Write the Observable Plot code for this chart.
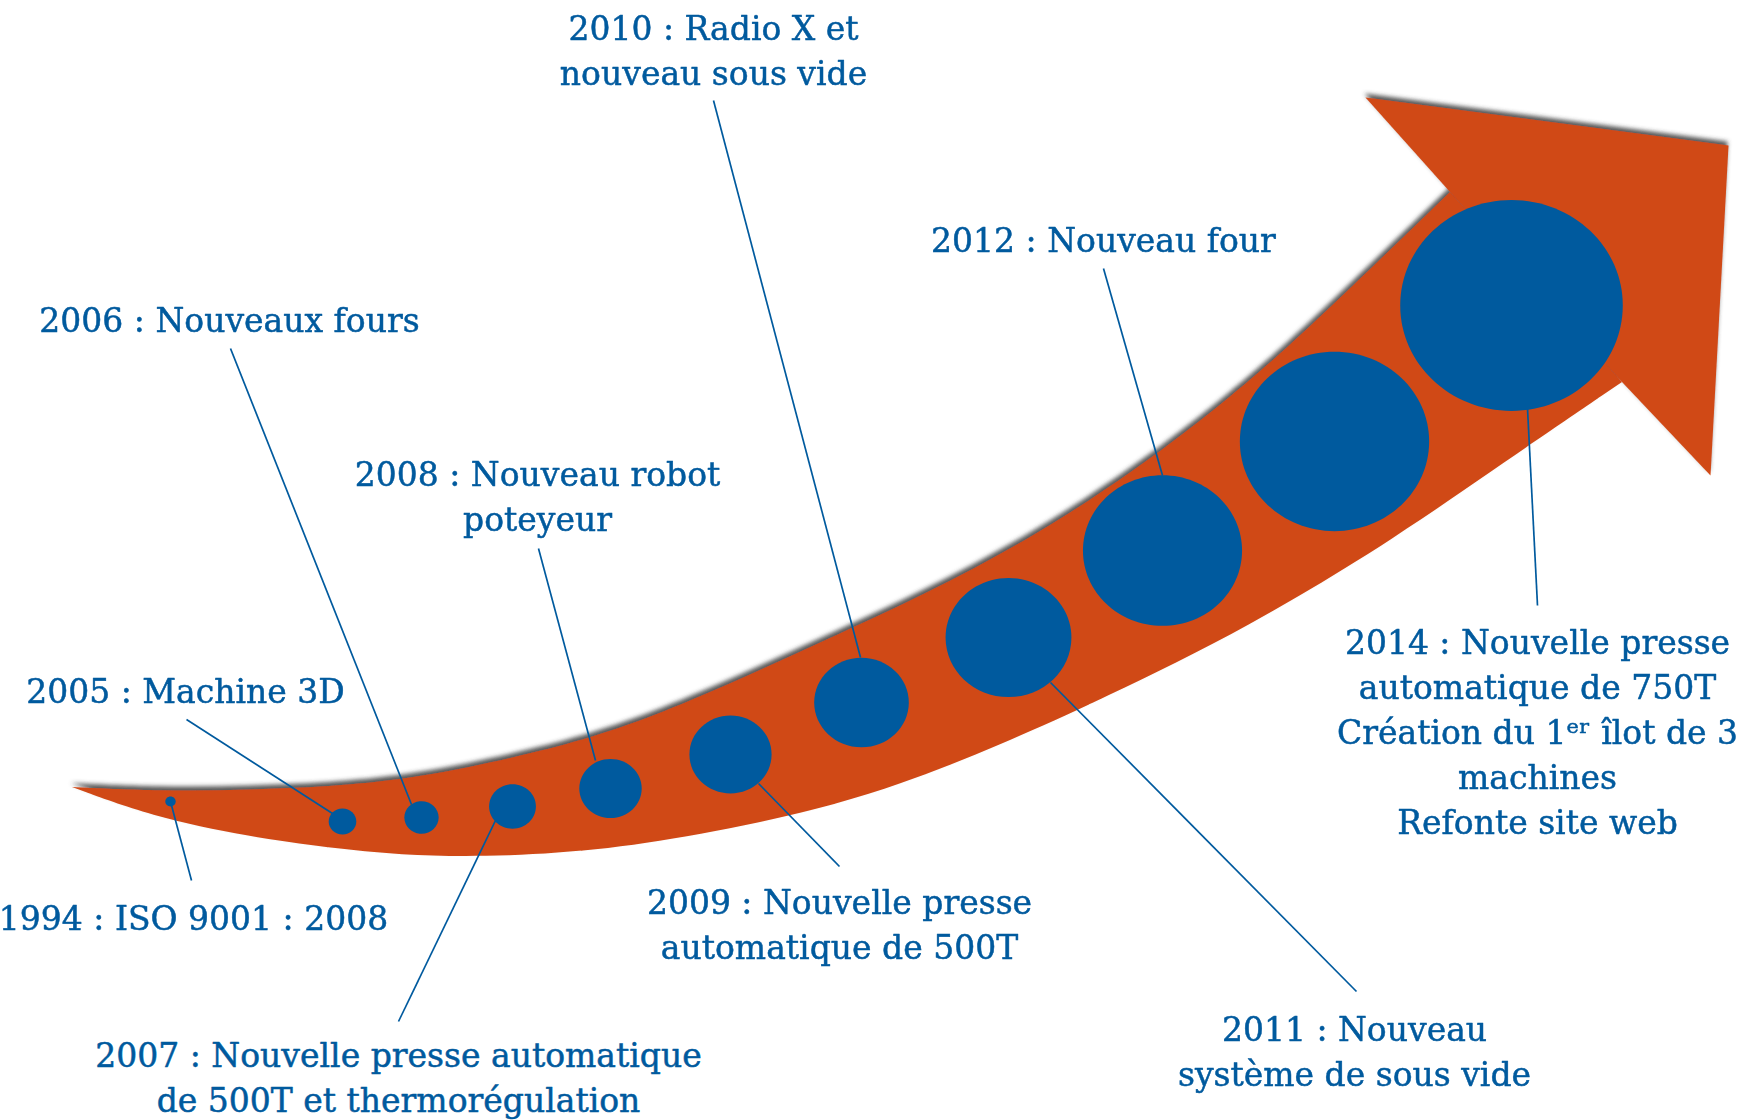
<!DOCTYPE html>
<html>
<head>
<meta charset="utf-8">
<script src="https://cdn.jsdelivr.net/npm/d3@7"></script>
<script src="https://cdn.jsdelivr.net/npm/@observablehq/plot@0.6"></script>
<style>
  html, body { margin: 0; padding: 0; background: #ffffff; }
  #chart { width: 1758px; height: 1120px; }
</style>
</head>
<body>
<div id="chart"></div>
<script>
// ---- Arrow outline (body edges + head) ----
const upperX = [72, 160, 250, 340, 417, 517, 583, 650, 750, 850, 950, 1050, 1150, 1233, 1300, 1450];
const upperY = [787, 791, 790, 786, 778, 757, 740, 718, 675, 629, 582, 527, 460, 395, 337, 192];
const lowerX = [72, 150, 250, 330, 400, 483, 583, 683, 806, 900, 1000, 1100, 1250, 1400, 1500, 1622];
const lowerY = [787, 816, 837, 848, 855, 857, 852, 838, 813, 785, 745, 700, 627, 535, 465, 382];
const headX = [1450, 1365, 1728, 1710, 1622];
const headY = [192, 97, 145, 475, 382];

// ---- Milestones (circles on the arrow) ----
const milestoneYears = ["1994", "2005", "2006", "2007", "2008", "2009", "2010", "2011", "2012", "2013", "2014"];
const milestoneX = [170, 342, 421, 512, 610, 730, 861, 1008, 1162, 1334, 1511];
const milestoneY = [801, 821, 817, 806, 788, 754, 702, 637, 550, 441, 305];
const milestoneR = [5, 13.3, 16.5, 22.5, 30, 39.5, 45.5, 60.5, 76.5, 91, 107];

// ---- Labels ----
const labelYears = ["1994", "2005", "2006", "2007", "2008", "2009", "2010", "2011", "2012", "2014"];
const labelTexts = [
  "1994 : ISO 9001 : 2008",
  "2005 : Machine 3D",
  "2006 : Nouveaux fours",
  "2007 : Nouvelle presse automatique\nde 500T et thermorégulation",
  "2008 : Nouveau robot\npoteyeur",
  "2009 : Nouvelle presse\nautomatique de 500T",
  "2010 : Radio X et\nnouveau sous vide",
  "2011 : Nouveau\nsystème de sous vide",
  "2012 : Nouveau four",
  "2014 : Nouvelle presse\nautomatique de 750T\nCréation du 1ᵉʳ îlot de 3\nmachines\nRefonte site web"
];
const labelX = [193, 185, 229, 398, 537, 839, 713, 1354, 1103, 1537];
const labelY = [915, 688, 317, 1075, 494, 922, 48, 1049, 237, 729];
// leader lines: end near the label, end on the circle
const leaderX1 = [191, 186, 230, 398, 538, 839, 713, 1356, 1103, 1537];
const leaderY1 = [880, 719, 348, 1021, 548, 866, 100, 991, 268, 605];
const leaderX2 = [170, 332, 411, 495, 595, 758, 860, 1050, 1162, 1527];
const leaderY2 = [801, 813, 804, 820, 760, 783, 657, 682, 475, 408];

const orange = "#d04a18";
const blue = "#005a9e";

const bodyData = upperX.map((x, i) => ({ ux: x, uy: upperY[i], lx: lowerX[i], ly: lowerY[i] }));
const headData = headX.map((x, i) => ({ x, y: headY[i] }));
const milestones = milestoneYears.map((year, i) => ({ year, x: milestoneX[i], y: milestoneY[i], r: milestoneR[i] }));
const labels = labelYears.map((year, i) => ({ year, text: labelTexts[i], x: labelX[i], y: labelY[i] }));
const leaders = labelYears.map((year, i) => ({ year, x1: leaderX1[i], y1: leaderY1[i], x2: leaderX2[i], y2: leaderY2[i] }));

// slightly wide ellipse symbol (the original discs are a bit wider than tall)
const ellipse = {
  draw(ctx, size) {
    const r = Math.sqrt(size / Math.PI);
    const rx = r * 1.04, ry = r * 0.985, k = 0.5523;
    ctx.moveTo(rx, 0);
    ctx.bezierCurveTo(rx, ry * k, rx * k, ry, 0, ry);
    ctx.bezierCurveTo(-rx * k, ry, -rx, ry * k, -rx, 0);
    ctx.bezierCurveTo(-rx, -ry * k, -rx * k, -ry, 0, -ry);
    ctx.bezierCurveTo(rx * k, -ry, rx, -ry * k, rx, 0);
    ctx.closePath();
  }
};

const chart = Plot.plot({
  width: 1758,
  height: 1120,
  margin: 0,
  x: { domain: [0, 1758], range: [0, 1758], axis: null },
  y: { domain: [0, 1120], range: [0, 1120], axis: null },
  r: { type: "identity" },
  style: { background: "#ffffff", fontFamily: "DejaVu Serif" },
  marks: [
    Plot.area(bodyData, { x1: "ux", y1: "uy", x2: "lx", y2: "ly", fill: orange, curve: "basis" }),
    Plot.line(headData, { x: "x", y: "y", fill: orange, stroke: "none" }),
    Plot.link(leaders, { x1: "x1", y1: "y1", x2: "x2", y2: "y2", stroke: blue, strokeWidth: 1.7 }),
    Plot.dot(milestones, { x: "x", y: "y", r: "r", fill: blue, stroke: "none", symbol: ellipse }),
    Plot.text(labels, {
      x: "x", y: "y", text: "text",
      fill: blue, stroke: blue, strokeWidth: 0.5,
      fontSize: 33, fontFamily: "DejaVu Serif",
      lineHeight: 1.36, lineAnchor: "middle", textAnchor: "middle"
    })
  ]
});

document.getElementById("chart").appendChild(chart);

// soft drop shadow on the arrow (shape casts a grey shadow upward)
const svg = d3.select(chart);
const defs = svg.insert("defs", ":first-child");
const f = defs.append("filter").attr("id", "arrowShadow")
  .attr("x", "-5%").attr("y", "-10%").attr("width", "110%").attr("height", "120%");
f.append("feGaussianBlur").attr("in", "SourceAlpha").attr("stdDeviation", 2).attr("result", "b");
f.append("feOffset").attr("in", "b").attr("dx", -1).attr("dy", -4).attr("result", "o");
f.append("feFlood").attr("flood-color", "#3a3a3a").attr("flood-opacity", 0.85).attr("result", "c");
f.append("feComposite").attr("in", "c").attr("in2", "o").attr("operator", "in").attr("result", "s");
f.append("feGaussianBlur").attr("in", "SourceGraphic").attr("stdDeviation", 0.6).attr("result", "g");
const m = f.append("feMerge");
m.append("feMergeNode").attr("in", "s");
m.append("feMergeNode").attr("in", "g");

const areaNode = svg.select('g[aria-label="area"]').node();
const lineNode = svg.select('g[aria-label="line"]').node();
if (areaNode && lineNode) {
  const wrap = document.createElementNS("http://www.w3.org/2000/svg", "g");
  wrap.setAttribute("filter", "url(#arrowShadow)");
  areaNode.parentNode.insertBefore(wrap, areaNode);
  wrap.appendChild(areaNode);
  wrap.appendChild(lineNode);
}
</script>
</body>
</html>
